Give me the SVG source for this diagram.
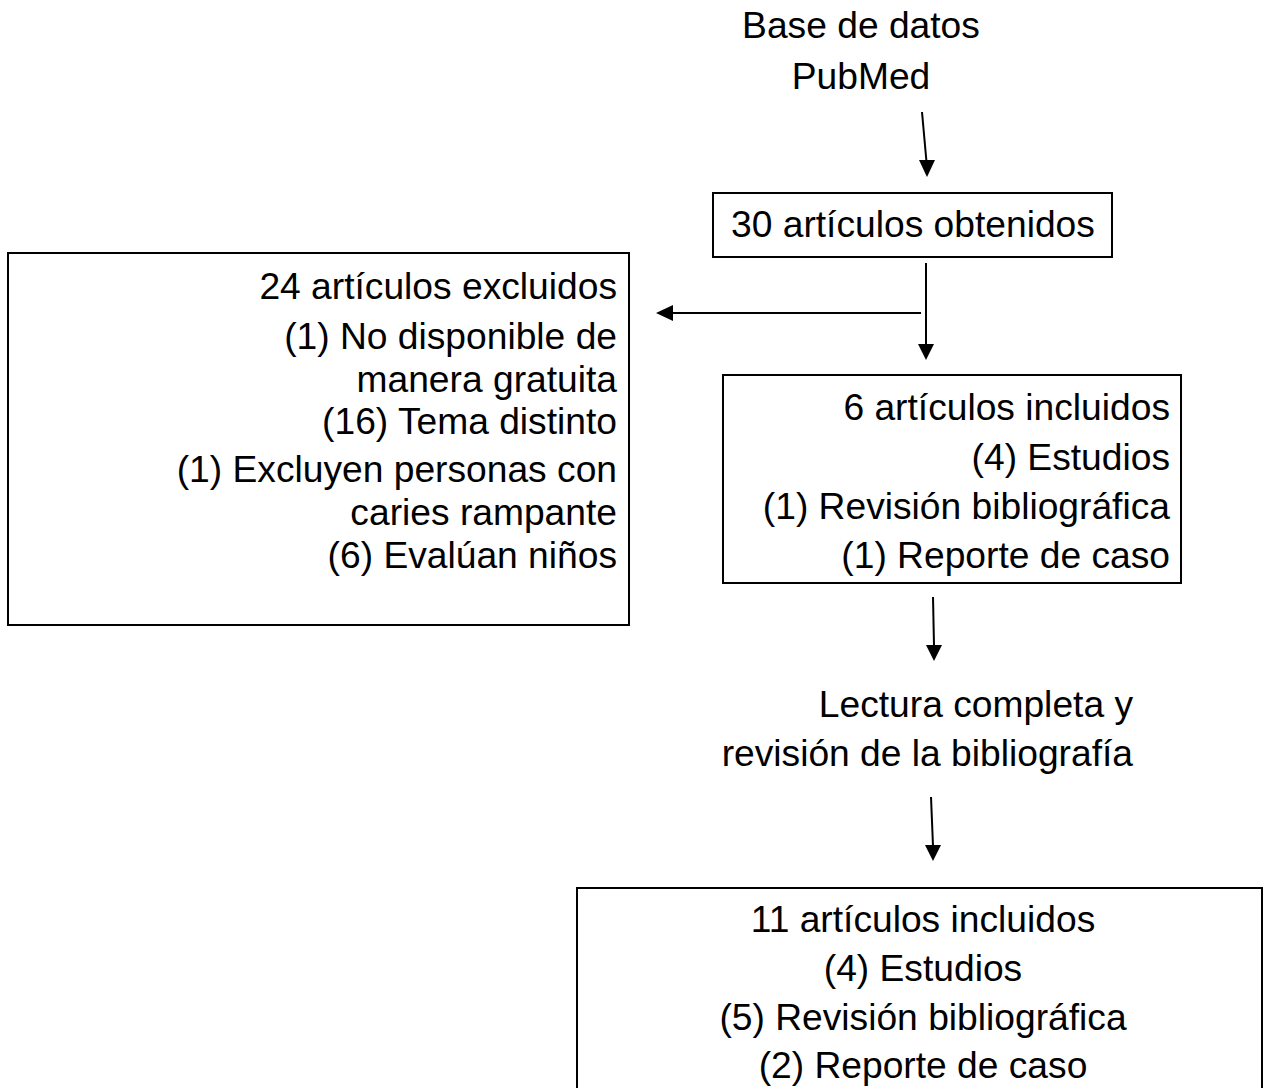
<svg xmlns="http://www.w3.org/2000/svg" width="1271" height="1088" viewBox="0 0 1271 1088">
<style>
text{font-family:"Liberation Sans",Arial,sans-serif;font-size:37.2px;fill:#000}
.box{fill:#fff;stroke:#000;stroke-width:2}
.ln{stroke:#000;stroke-width:2;fill:none}
.hd{fill:#000}
.r{text-anchor:end}
.m{text-anchor:middle}
</style>
<rect width="1271" height="1088" fill="#fff"/>
<g id="connectors">
<line class="ln" x1="922" y1="112" x2="926.5" y2="162"/>
<polygon class="hd" points="919,160 935,160 927,177"/>
<line class="ln" x1="926" y1="263" x2="926" y2="345"/>
<polygon class="hd" points="918,344 934,344 926,360"/>
<line class="ln" x1="921" y1="313" x2="672" y2="313"/>
<polygon class="hd" points="673,305 673,321 656,313"/>
<line class="ln" x1="933" y1="597" x2="934" y2="646"/>
<polygon class="hd" points="926,645 942,645 934,661"/>
<line class="ln" x1="931" y1="797" x2="933" y2="846"/>
<polygon class="hd" points="925,845 941,845 933,861"/>
</g>
<g id="source">
<text class="m" x="861" y="38">Base de datos</text>
<text class="m" x="861" y="89">PubMed</text>
</g>
<g id="obtenidos">
<rect class="box" x="713" y="193" width="399" height="64"/>
<text x="731" y="237">30 artículos obtenidos</text>
</g>
<g id="excluidos">
<rect class="box" x="8" y="253" width="621" height="372"/>
<text class="r" x="617" y="299">24 artículos excluidos</text>
<text class="r" x="617" y="349">(1) No disponible de</text>
<text class="r" x="617" y="392">manera gratuita</text>
<text class="r" x="617" y="434">(16) Tema distinto</text>
<text class="r" x="617" y="482">(1) Excluyen personas con</text>
<text class="r" x="617" y="525">caries rampante</text>
<text class="r" x="617" y="568">(6) Evalúan niños</text>
</g>
<g id="incluidos6">
<rect class="box" x="723" y="375" width="458" height="208"/>
<text class="r" x="1170" y="420">6 artículos incluidos</text>
<text class="r" x="1170" y="470">(4) Estudios</text>
<text class="r" x="1170" y="519">(1) Revisión bibliográfica</text>
<text class="r" x="1170" y="568">(1) Reporte de caso</text>
</g>
<g id="lectura">
<text class="r" x="1133" y="717">Lectura completa y</text>
<text class="r" x="1133" y="766">revisión de la bibliografía</text>
</g>
<g id="incluidos11">
<rect class="box" x="577" y="888" width="685" height="210"/>
<text class="m" x="923" y="932">11 artículos incluidos</text>
<text class="m" x="923" y="981">(4) Estudios</text>
<text class="m" x="923" y="1030">(5) Revisión bibliográfica</text>
<text class="m" x="923" y="1078">(2) Reporte de caso</text>
</g>
</svg>
